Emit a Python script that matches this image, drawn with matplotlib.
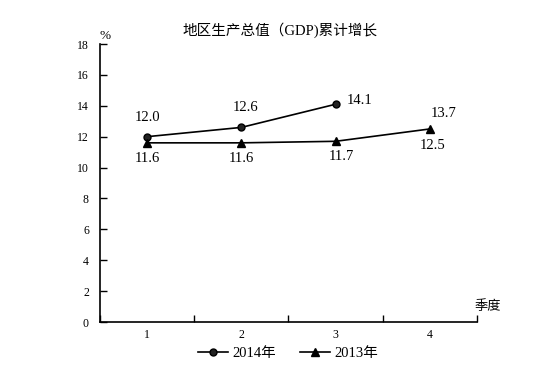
import matplotlib
matplotlib.use("Agg")
import matplotlib.pyplot as plt

# data
quarters = [1, 2, 3, 4]
quarter_labels = ["1", "2", "3", "4"]
gdp_2014 = [12.0, 12.6, 14.1]
gdp_2013 = [11.6, 11.6, 11.7, 12.5]
labels_2014 = ["12.0", "12.6", "14.1"]
labels_2013 = ["11.6", "11.6", "11.7", "12.5"]
extra_label = "13.7"  # printed above the 4th quarter point in the source
y_ticks = [0, 2, 4, 6, 8, 10, 12, 14, 16, 18]

fonts = ["Liberation Serif", "Noto Sans CJK SC"]
plt.rcParams["font.family"] = fonts

fig = plt.figure(figsize=(5.54, 3.86), dpi=100)
ax = fig.add_axes([0.1805, 0.1658, 0.6805, 0.7202])

ax.plot(quarters[:3], gdp_2014, color="black", lw=1.2, marker="o",
        markersize=5, markerfacecolor="#222222", markeredgecolor="black",
        label="2014年")
ax.plot(quarters, gdp_2013, color="black", lw=1.2, marker="^",
        markersize=6, label="2013年")

# value labels
offs_2014 = [(0, 14), (3, 14), (17, 3)]
for x, y, t, (dx, dy) in zip(quarters, gdp_2014, labels_2014, offs_2014):
    ax.annotate(t, (x, y), xytext=(dx, dy), textcoords="offset points",
                ha="center", va="center", fontsize=10.5)
offs_2013 = [(0, -11), (0, -11), (4, -11), (2, -12)]
for x, y, t, (dx, dy) in zip(quarters, gdp_2013, labels_2013, offs_2013):
    ax.annotate(t, (x, y), xytext=(dx, dy), textcoords="offset points",
                ha="center", va="center", fontsize=10.5)
ax.annotate(extra_label, (quarters[3], gdp_2013[3]), xytext=(10, 11),
            textcoords="offset points", ha="center", va="center", fontsize=10.5)

ax.set_xlim(0.5, 4.5)
ax.set_ylim(0, 18)
ax.set_yticks(y_ticks)
ax.set_xticks(quarters)
ax.set_xticklabels(quarter_labels)
ax.set_xticks([q + 0.5 for q in [0] + quarters], minor=True)
ax.tick_params(axis="x", which="major", length=0, pad=5, labelsize=8.5)
ax.tick_params(axis="x", which="minor", direction="in", length=5, width=1)
ax.tick_params(axis="y", direction="in", length=5, width=1, labelsize=8.5, pad=8)

for s in ["top", "right"]:
    ax.spines[s].set_visible(False)
for s in ["left", "bottom"]:
    ax.spines[s].set_linewidth(1.2)

fig.text(0.506, 0.922, "地区生产总值（GDP)累计增长", ha="center", va="center",
         fontsize=10.5)
fig.text(0.19, 0.908, "%", ha="center", va="center", fontsize=9.5)
fig.text(0.88, 0.205, "季度", ha="center", va="center", fontsize=9.5)

fig.legend(loc="center", bbox_to_anchor=(0.52, 0.085), ncol=2, frameon=False,
           fontsize=10.5, handlelength=2.1, columnspacing=1.6, handletextpad=0.3)

fig.savefig("out.png", dpi=100)
